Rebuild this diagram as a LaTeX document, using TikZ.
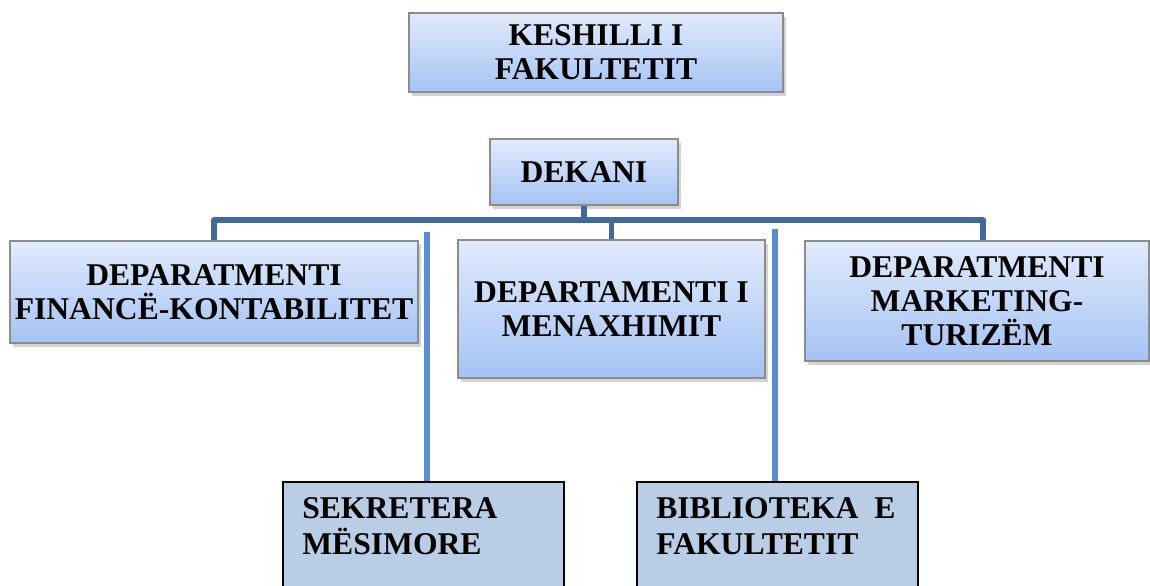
\documentclass[tikz,border=0pt]{standalone}
\usepackage{fontspec}
\setmainfont{Liberation Serif}
\usetikzlibrary{shadows}

\definecolor{boxtop}{HTML}{E1EBFB}
\definecolor{boxbot}{HTML}{A4C3F4}
\definecolor{boxline}{HTML}{8C8C8C}
\definecolor{trunkblue}{HTML}{41699A}
\definecolor{auxblue}{HTML}{5A8DD2}
\definecolor{lowfill}{HTML}{B9CDE5}

\tikzset{
  unit/.style={rectangle, draw=boxline, line width=1pt, inner xsep=1pt,
    top color=boxtop, bottom color=boxbot, align=center,
    drop shadow={shadow xshift=2pt, shadow yshift=-2.5pt, opacity=0.35},
    font=\fontsize{22.5}{24}\selectfont\bfseries},
  lowbox/.style={rectangle, draw=black, line width=1.6pt, fill=lowfill,
    minimum width=7.025cm, minimum height=3.2cm, anchor=north west},
  lowtext/.style={anchor=north west, inner sep=0pt, align=left,
    font=\fontsize{22.5}{26}\selectfont\bfseries},
  trunk/.style={trunkblue, line width=3.6pt, line join=round},
  aux/.style={auxblue, line width=3.6pt}
}

\begin{document}
\begin{tikzpicture}[x=0.025cm, y=-0.025cm]
      \useasboundingbox (0,0) rectangle (1150,585);

      % ---- top of the chart ---------------------------
      \node[unit, minimum width=9.35cm, minimum height=1.975cm] (kesh) at (596,52.5) {KESHILLI I\\FAKULTETIT};
      \node[unit, minimum width=4.7cm, minimum height=1.65cm] (dek) at (584,172) {DEKANI};

      % ---- departments --------------------------------
      \node[unit, minimum width=10.2cm, minimum height=2.55cm] (fin) at (214,292) {DEPARATMENTI\\FINANCË-KONTABILITET};
      \node[unit, minimum width=7.675cm, minimum height=3.45cm] (men) at (611.5,309) {DEPARTAMENTI I\\MENAXHIMIT};
      \node[unit, minimum width=8.6cm, minimum height=3cm] (mkt) at (977,301) {DEPARATMENTI\\MARKETING-\\TURIZËM};

      % ---- tree lines from the dean -------------------
      \coordinate (bar) at (584,220);
      \draw[trunk] (dek.south) -- (bar);
      \draw[trunk] (fin.north) |- (bar) -| ([xshift=0.15cm]mkt.north);
      \draw[trunk] (men.north) -- (men.north |- bar);

      % ---- offices at the bottom ----------------------
      \node[lowbox] (sek) at (282,481) {};
      \node[lowbox] (bib) at (636,481) {};
      \node[lowtext] (sektext) at ([xshift=0.5cm, yshift=-0.4cm]sek.north west) {SEKRETERA\\MËSIMORE};
      \node[lowtext] (bibtext) at ([xshift=0.5cm, yshift=-0.4cm]bib.north west) {BIBLIOTEKA\ \ E\\FAKULTETIT};

      % ---- light lines down to the offices ------------
      \coordinate (s0) at (427,232);
      \coordinate (b0) at (775,229);
      \draw[aux] (s0) -- (s0 |- sek.north);
      \draw[aux] (b0) -- (b0 |- bib.north);
\end{tikzpicture}
\end{document}
